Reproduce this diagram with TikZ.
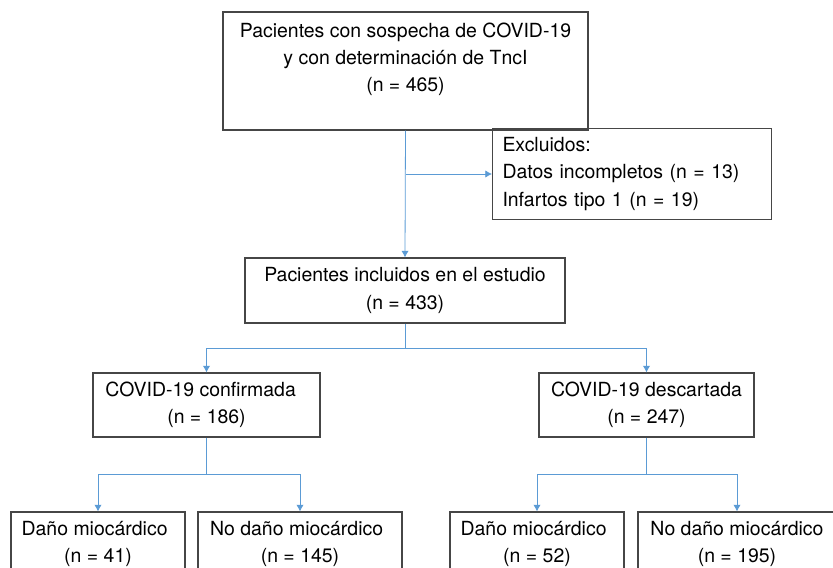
\documentclass[tikz,border=0pt]{standalone}
\usepackage{fontspec}
\setmainfont{TeX Gyre Heros}
\usepackage{tikz}
\usetikzlibrary{positioning,arrows.meta}

\definecolor{linkblue}{RGB}{91,155,213}
\definecolor{boxgray}{RGB}{70,70,70}

\tikzset{
  box/.style={draw=boxgray, line width=0.8pt, rectangle, align=center,
    inner sep=0pt, font=\fontsize{14.6}{20.5}\selectfont},
  link/.style={draw=linkblue, line width=0.6pt,
    -{Latex[length=5pt,width=5.5pt]}},
  plain/.style={draw=linkblue, line width=0.6pt}
}

\begin{document}
\begin{tikzpicture}[x=0.75pt, y=-0.75pt]
  \useasboundingbox (0,0) rectangle (833,568);
  \clip (0,0) rectangle (833,568);

  % first level
  \node[box, minimum width={365*0.75pt}, minimum height={118*0.75pt}] (suspect) at (405.5,71)
    {Pacientes con sospecha de COVID-19\\ y con determinación de TncI\\ (n = 465)\\ \mbox{}};
  \node[box, minimum width={279*0.75pt}, minimum height={91*0.75pt}, align=left,
    text width={259*0.75pt}] (excl) at (632,174)
    {Excluidos:\\ Datos incompletos (n = 13)\\ Infartos tipo 1 (n = 19)};
  \node[box, minimum width={320*0.75pt}, minimum height={65*0.75pt}] (incl) at (405,290.5)
    {Pacientes incluidos en el estudio\\ (n = 433)};

  % second level
  \node[box, minimum width={227*0.75pt}, minimum height={64*0.75pt}] (conf) at (206.5,405)
    {COVID-19 confirmada\hspace*{0.6em}\\ (n = 186)};
  \node[box, minimum width={215*0.75pt}, minimum height={64*0.75pt}] (desc) at (646.5,405)
    {COVID-19 descartada\\ (n = 247)};

  % third level (cut by the lower edge)
  \node[box, minimum width={174*0.75pt}, minimum height={64*0.75pt}] (dmgA) at (98,544)
    {Daño miocárdico\hspace*{0.35em}\\ (n = 41)};
  \node[box, minimum width={204*0.75pt}, minimum height={64*0.75pt}] (nodmgA) at (300,544)
    {No daño miocárdico\hspace*{0.35em}\\ (n = 145)};
  \node[box, minimum width={174*0.75pt}, minimum height={64*0.75pt}] (dmgB) at (537,544)
    {Daño miocárdico\hspace*{0.35em}\\ (n = 52)};
  \node[box, minimum width={198*0.75pt}, minimum height={64*0.75pt}] (nodmgB) at (737,544)
    {No daño miocárdico\\ (n = 195)};

  % connectors
  \draw[link] (suspect.south) -- (incl.north);
  \draw[link] (suspect.south |- excl.west) -- (excl.west);

  \coordinate (splitA) at (405,348);
  \draw[plain] (incl.south) -- (splitA);
  \draw[link] (splitA) -| (conf.north);
  \draw[link] (splitA) -| (desc.north);

  \coordinate (splitB) at (206.5,474);
  \draw[plain] (conf.south) -- (splitB);
  \draw[link] (splitB) -| (dmgA.north);
  \draw[link] (splitB) -| (nodmgA.north);

  \coordinate (splitC) at (646.5,474);
  \draw[plain] (desc.south) -- (splitC);
  \draw[link] (splitC) -| (dmgB.north);
  \draw[link] (splitC) -| (nodmgB.north);
\end{tikzpicture}
\end{document}
